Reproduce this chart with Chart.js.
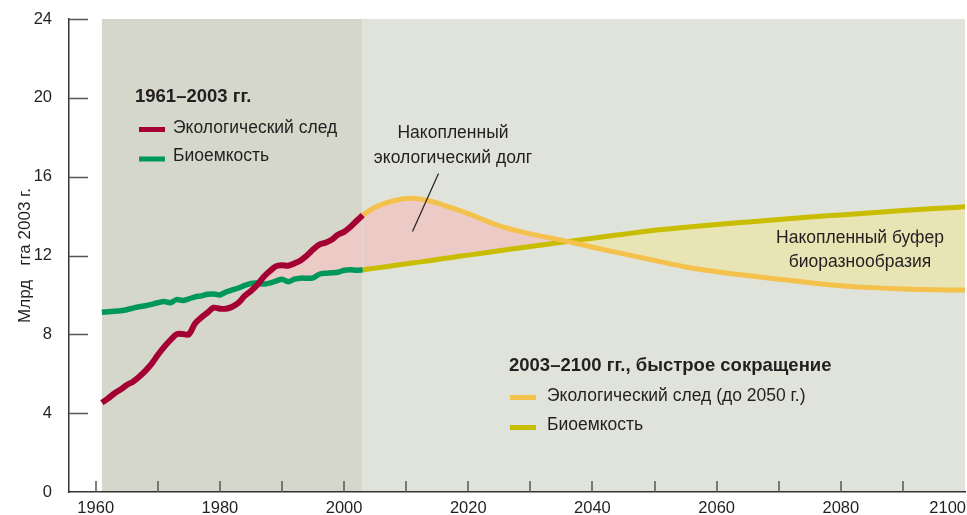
<!DOCTYPE html>
<html>
<head>
<meta charset="utf-8">
<script src="https://cdn.jsdelivr.net/npm/chart.js@4.4.1/dist/chart.umd.min.js"></script>
<style>
  html, body { margin: 0; padding: 0; background: #fff; }
  #wrap { width: 967px; height: 515px; position: relative; }
</style>
</head>
<body>
<div id="wrap"><canvas id="footprint"></canvas></div>
<script>
// 1961-2003, млрд гга 2003 г.
var years = [1961, 1962, 1963, 1964, 1965, 1966, 1967, 1968, 1969, 1970,
             1971, 1972, 1973, 1974, 1975, 1976, 1977, 1978, 1979, 1980,
             1981, 1982, 1983, 1984, 1985, 1986, 1987, 1988, 1989, 1990,
             1991, 1992, 1993, 1994, 1995, 1996, 1997, 1998, 1999, 2000,
             2001, 2002, 2003];
var footprint = [4.53, 4.75, 5.0, 5.2, 5.43, 5.6, 5.85, 6.15, 6.5, 6.95,
                 7.35, 7.7, 8.0, 8.02, 8.0, 8.55, 8.85, 9.1, 9.35, 9.3,
                 9.3, 9.4, 9.6, 9.95, 10.2, 10.5, 10.9, 11.2, 11.45, 11.5,
                 11.48, 11.6, 11.75, 12.0, 12.3, 12.55, 12.65, 12.8, 13.05, 13.2,
                 13.45, 13.75, 14.05];
var biocapacity = [9.12, 9.15, 9.17, 9.2, 9.25, 9.33, 9.4, 9.45, 9.52, 9.6,
                   9.66, 9.6, 9.76, 9.72, 9.8, 9.9, 9.95, 10.03, 10.05, 10.0,
                   10.15, 10.25, 10.35, 10.48, 10.58, 10.6, 10.55, 10.6, 10.7, 10.8,
                   10.67, 10.8, 10.85, 10.85, 10.87, 11.05, 11.1, 11.12, 11.15, 11.25,
                   11.28, 11.25, 11.27];

// 2003-2100, сценарий быстрого сокращения
var projYears = [2003, 2005, 2008, 2011, 2014, 2017, 2020, 2025, 2030, 2035, 2040, 2045,
                 2050, 2055, 2060, 2065, 2070, 2075, 2080, 2085, 2090, 2095, 2100];
var projFootprint = [14.05, 14.45, 14.78, 14.9, 14.75, 14.45, 14.12, 13.5, 13.1, 12.78, 12.42, 12.08,
                     11.75, 11.42, 11.18, 10.98, 10.8, 10.62, 10.47, 10.37, 10.3, 10.26, 10.25];
var projBiocapacity = [11.27, 11.36, 11.49, 11.62, 11.75, 11.89, 12.02, 12.24, 12.46, 12.67, 12.88, 13.08,
                       13.28, 13.43, 13.57, 13.7, 13.83, 13.95, 14.06, 14.17, 14.28, 14.38, 14.47];

var xLabelStep = 20;

function pts(xs, ys) {
  return xs.map(function(x, i) { return {x: x, y: ys[i]}; });
}

var textColor = '#231f20';
var fontFamily = '"Liberation Sans", Arial, sans-serif';

// фон двух периодов
var bands = {
  id: 'bands',
  beforeDraw: function(chart) {
    var ctx = chart.ctx, a = chart.chartArea, x = chart.scales.x;
    var x0 = x.getPixelForValue(years[0]);
    var x1 = x.getPixelForValue(projYears[0]);
    var x2 = x.getPixelForValue(projYears[projYears.length - 1]);
    ctx.save();
    ctx.fillStyle = '#d4d7c9';
    ctx.fillRect(x0, a.top, x1 - x0, a.bottom - a.top);
    ctx.fillStyle = '#e0e3da';
    ctx.fillRect(x1, a.top, x2 - x1, a.bottom - a.top);
    ctx.restore();
  }
};

// засечки внутрь и подписи оси лет
var axisMarks = {
  id: 'axisMarks',
  afterDraw: function(chart) {
    var ctx = chart.ctx, a = chart.chartArea;
    var x = chart.scales.x, y = chart.scales.y;
    ctx.save();
    ctx.strokeStyle = '#555';
    ctx.lineWidth = 1.5;
    ctx.beginPath();
    y.ticks.forEach(function(t) {
      if (t.value === 0) return;
      var py = Math.round(y.getPixelForValue(t.value)) + 0.5;
      ctx.moveTo(a.left, py);
      ctx.lineTo(a.left + 19, py);
    });
    x.ticks.forEach(function(t) {
      var px = Math.round(x.getPixelForValue(t.value));
      if (px > a.right - 2) return;
      ctx.moveTo(px, a.bottom);
      ctx.lineTo(px, a.bottom - 11);
    });
    ctx.stroke();

    ctx.fillStyle = textColor;
    ctx.font = '16.5px ' + fontFamily;
    ctx.textBaseline = 'middle';
    x.ticks.forEach(function(t) {
      if (t.value % xLabelStep !== 0) return;
      var px = x.getPixelForValue(t.value);
      var label = String(t.value);
      var w = ctx.measureText(label).width;
      if (px + w / 2 > chart.width - 1) {
        ctx.textAlign = 'right';
        ctx.fillText(label, chart.width - 1, a.bottom + 16);
      } else {
        ctx.textAlign = 'center';
        ctx.fillText(label, px, a.bottom + 16);
      }
    });
    ctx.restore();
  }
};

// легенды и пояснения
var notes = {
  id: 'notes',
  afterDraw: function(chart) {
    var ctx = chart.ctx;
    ctx.save();
    ctx.fillStyle = textColor;
    ctx.textBaseline = 'middle';

    function sample(color, x, y) {
      ctx.save();
      ctx.strokeStyle = color;
      ctx.lineWidth = 5;
      ctx.beginPath();
      ctx.moveTo(x, y);
      ctx.lineTo(x + 26, y);
      ctx.stroke();
      ctx.restore();
    }

    ctx.textAlign = 'left';
    ctx.font = 'bold 18.5px ' + fontFamily;
    ctx.fillText('1961–2003 гг.', 135, 97);
    ctx.fillText('2003–2100 гг., быстрое сокращение', 509, 366);

    ctx.font = '17.5px ' + fontFamily;
    sample('#a50034', 139, 129.5);
    ctx.fillText('Экологический след', 173, 128.5);
    sample('#00985a', 139, 159);
    ctx.fillText('Биоемкость', 173, 156.5);

    sample('#f4c14c', 510, 397.5);
    ctx.fillText('Экологический след (до 2050 г.)', 547, 396);
    sample('#c8bd00', 510, 427.5);
    ctx.fillText('Биоемкость', 547, 425);

    ctx.textAlign = 'center';
    ctx.fillText('Накопленный', 453, 133);
    ctx.fillText('экологический долг', 453, 158);
    ctx.fillText('Накопленный буфер', 860, 238);
    ctx.fillText('биоразнообразия', 860, 262);

    ctx.strokeStyle = '#231f20';
    ctx.lineWidth = 1.2;
    ctx.beginPath();
    ctx.moveTo(438.5, 173.5);
    ctx.lineTo(412.5, 231.5);
    ctx.stroke();
    ctx.restore();
  }
};

var ctx = document.getElementById('footprint').getContext('2d');
var chart = new Chart(ctx, {
  type: 'line',
  data: {
    datasets: [{
      label: 'Экологический след',
      data: pts(years, footprint),
      borderColor: '#a50034',
      borderWidth: 6,
      tension: 0.3,
      fill: {target: 1, above: '#eccbc6', below: 'rgba(0,0,0,0)'}
    }, {
      label: 'Биоемкость',
      data: pts(years, biocapacity),
      borderColor: '#00985a',
      borderWidth: 5.5,
      tension: 0.3,
      fill: false
    }, {
      label: 'Экологический след (до 2050 г.)',
      data: pts(projYears, projFootprint),
      borderColor: '#f4c14c',
      borderWidth: 5,
      cubicInterpolationMode: 'monotone',
      fill: {target: 3, above: '#eccbc6', below: '#e8e4b4'}
    }, {
      label: 'Биоемкость',
      data: pts(projYears, projBiocapacity),
      borderColor: '#c8bd00',
      borderWidth: 5,
      cubicInterpolationMode: 'monotone',
      fill: false
    }]
  },
  options: {
    responsive: true,
    maintainAspectRatio: false,
    animation: false,
    events: [],
    layout: {padding: {top: 19, right: 2, bottom: 23, left: 0}},
    elements: {
      point: {radius: 0},
      line: {borderCapStyle: 'butt', borderJoinStyle: 'round'}
    },
    plugins: {
      legend: {display: false},
      tooltip: {enabled: false},
      filler: {drawTime: 'beforeDatasetsDraw'}
    },
    scales: {
      x: {
        type: 'linear',
        min: 1955.7,
        max: 2100,
        afterFit: function(s) { s.height = 0; s.paddingLeft = 0; s.paddingRight = 0; },
        ticks: {display: false, stepSize: 10, includeBounds: false},
        grid: {display: false, drawTicks: false},
        border: {display: true, color: '#333', width: 1.5}
      },
      y: {
        min: 0,
        max: 24,
        afterFit: function(s) { s.width = 69; s.paddingTop = 0; s.paddingBottom = 0; },
        ticks: {stepSize: 4, padding: 17, color: textColor, font: {size: 16.5, family: fontFamily}},
        grid: {display: false, drawTicks: false},
        border: {display: true, color: '#333', width: 1.5},
        title: {
          display: true,
          text: 'Млрд   гга 2003 г.',
          color: textColor,
          font: {size: 17, family: fontFamily},
          padding: {top: 15, bottom: 0}
        }
      }
    }
  },
  plugins: [bands, axisMarks, notes]
});
</script>
</body>
</html>
